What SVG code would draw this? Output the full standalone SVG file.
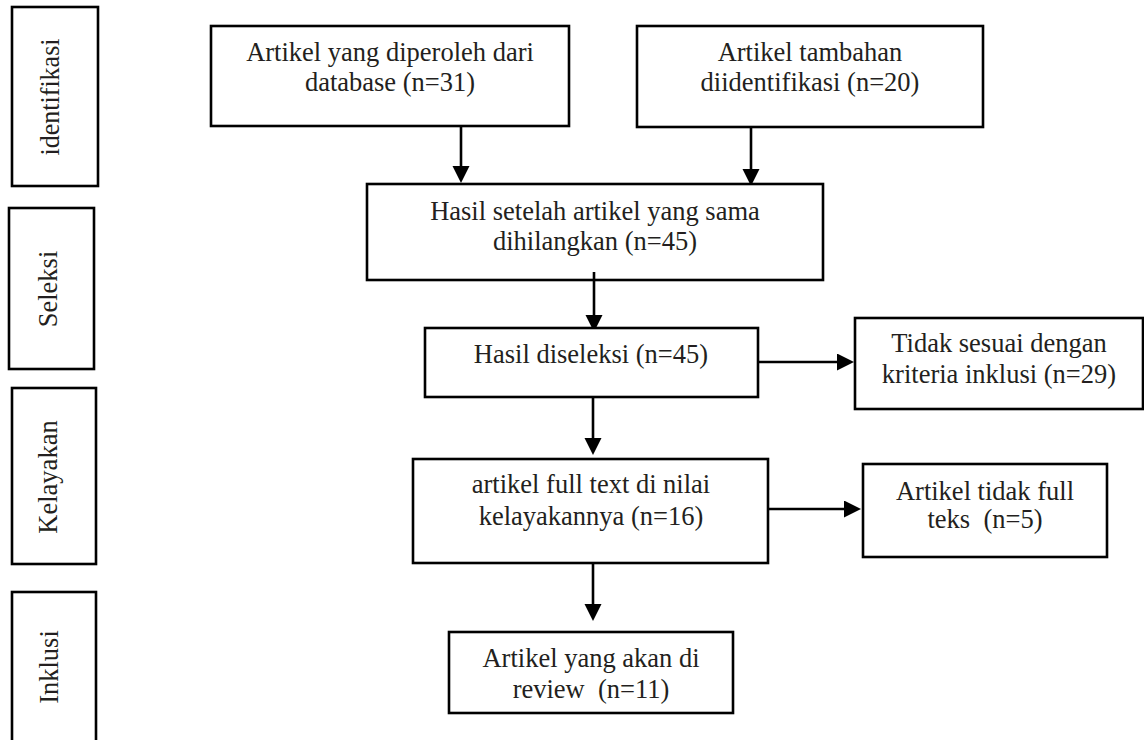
<svg xmlns="http://www.w3.org/2000/svg" width="1144" height="740" viewBox="0 0 1144 740">
<style>
.box{fill:#fff;stroke:#000;stroke-width:2.6}
.t{font-family:"Liberation Serif","Times New Roman",serif;font-size:26.5px;fill:#231f20;text-anchor:middle}
.side{font-family:"Liberation Serif","Times New Roman",serif;font-size:26.5px;fill:#231f20;text-anchor:middle}
.c{stroke:#000;stroke-width:2.6;fill:none;marker-end:url(#ah)}
</style>
<defs>
<marker id="ah" markerUnits="userSpaceOnUse" markerWidth="19" markerHeight="18" refX="7" refY="8.5" orient="auto">
<path d="M0,0 L17,8.5 L0,17 z" fill="#000"/>
</marker>
</defs>
<rect width="1144" height="740" fill="#fff"/>

<g id="stage-identifikasi">
<rect class="box" x="12" y="7" width="86" height="179"/>
<text class="side" transform="translate(59,97) rotate(-90)" font-size="28" textLength="117" lengthAdjust="spacingAndGlyphs">identifikasi</text>
</g>
<g id="stage-seleksi">
<rect class="box" x="9" y="208" width="85" height="161"/>
<text class="side" transform="translate(57,289) rotate(-90)">Seleksi</text>
</g>
<g id="stage-kelayakan">
<rect class="box" x="12" y="388" width="84" height="176"/>
<text class="side" transform="translate(57,477) rotate(-90)">Kelayakan</text>
</g>
<g id="stage-inklusi">
<rect class="box" x="12" y="592" width="84" height="160"/>
<text class="side" transform="translate(58,667) rotate(-90)">Inklusi</text>
</g>

<g id="connectors">
<line class="c" x1="461" y1="126" x2="461" y2="173"/>
<line class="c" x1="751" y1="127" x2="751" y2="176"/>
<line class="c" x1="594" y1="272" x2="594" y2="322"/>
<line class="c" x1="593" y1="397" x2="593" y2="445"/>
<line class="c" x1="593" y1="561" x2="593" y2="611"/>
<line class="c" x1="758" y1="362" x2="844" y2="362"/>
<line class="c" x1="766" y1="509" x2="851" y2="509"/>
</g>

<g id="n-database">
<rect class="box" x="211" y="26" width="358" height="100"/>
<text class="t" x="390" y="61">Artikel yang diperoleh dari</text>
<text class="t" x="390" y="91">database (n=31)</text>
</g>
<g id="n-tambahan">
<rect class="box" x="637" y="26" width="346" height="101"/>
<text class="t" x="810" y="61">Artikel tambahan</text>
<text class="t" x="810" y="91">diidentifikasi (n=20)</text>
</g>
<g id="n-hasil-setelah">
<rect class="box" x="367" y="184" width="456" height="96"/>
<text class="t" x="595" y="220">Hasil setelah artikel yang sama</text>
<text class="t" x="595" y="250">dihilangkan (n=45)</text>
</g>
<line x1="594" y1="272" x2="594" y2="280" stroke="#000" stroke-width="2.6"/>
<g id="n-diseleksi">
<rect class="box" x="425" y="328" width="333" height="69"/>
<text class="t" x="591" y="363">Hasil diseleksi (n=45)</text>
</g>
<g id="n-tidak-sesuai">
<rect class="box" x="855" y="318" width="288" height="91"/>
<text class="t" x="999" y="352">Tidak sesuai dengan</text>
<text class="t" x="999" y="383">kriteria inklusi (n=29)</text>
</g>
<g id="n-fulltext">
<rect class="box" x="413" y="459" width="355" height="104"/>
<text class="t" x="591" y="493">artikel full text di nilai</text>
<text class="t" x="591" y="525">kelayakannya (n=16)</text>
</g>
<g id="n-tidak-full">
<rect class="box" x="863" y="464" width="244" height="93"/>
<text class="t" x="985" y="500">Artikel tidak full</text>
<text class="t" x="985" y="528" xml:space="preserve">teks  (n=5)</text>
</g>
<g id="n-review">
<rect class="box" x="449" y="632" width="284" height="81"/>
<text class="t" x="591" y="667">Artikel yang akan di</text>
<text class="t" x="591" y="698" xml:space="preserve">review  (n=11)</text>
</g>
</svg>
